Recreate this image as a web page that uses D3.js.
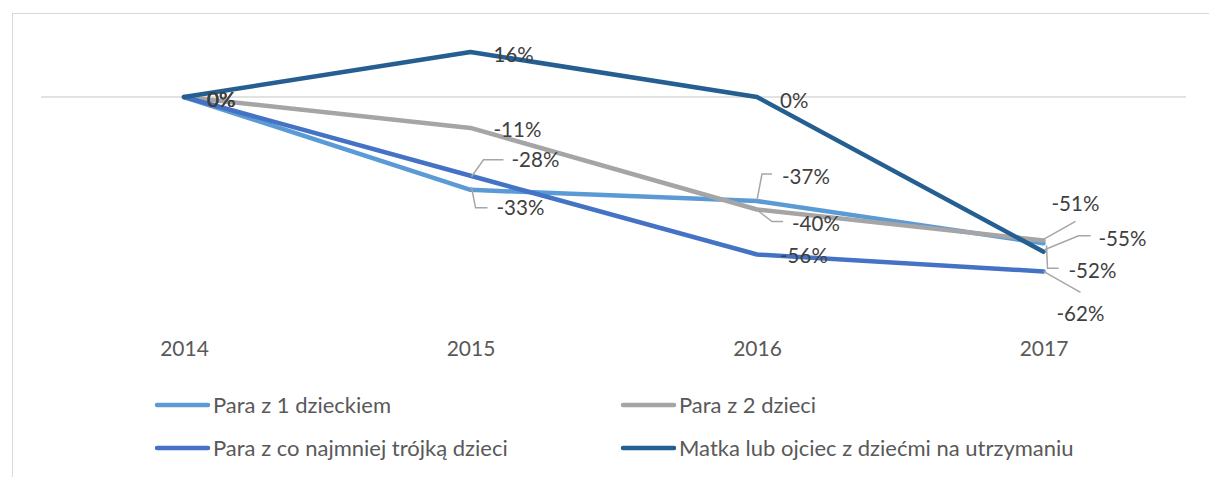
<!DOCTYPE html>
<html>
<head>
<meta charset="utf-8">
<script src="https://cdn.jsdelivr.net/npm/d3@7"></script>
<style>
  html, body { margin: 0; padding: 0; background: #fff; }
  svg { display: block; }
  text { font-family: Lato, "Open Sans", sans-serif; }
</style>
</head>
<body>
<div id="chart"></div>
<script>
// ---- Data ----
const years = ["2014", "2015", "2016", "2017"];
const seriesNames = [
  "Para z 1 dzieckiem",
  "Para z 2 dzieci",
  "Para z co najmniej trójką dzieci",
  "Matka lub ojciec z dziećmi na utrzymaniu"
];
const para1 = [0, -33, -37, -52];
const para2 = [0, -11, -40, -51];
const para3plus = [0, -28, -56, -62];
const samotni = [0, 16, 0, -55];
const seriesValues = [para1, para2, para3plus, samotni];
const labelTexts = [
  ["0%", "-33%", "-37%", "-52%"],
  ["0%", "-11%", "-40%", "-51%"],
  ["0%", "-28%", "-56%", "-62%"],
  ["0%", "16%", "0%", "-55%"]
];

// ---- Styling / layout (kept separate from data) ----
const colors = ["#5B9BD5", "#A5A5A5", "#4472C4", "#255E91"];
// label offsets relative to the data point: text start (dx, dy = vertical centre), optional leader polyline
const labelLayout = [
  [ {dx:23, dy:3}, {dx:26, dy:18, leader:[[1,-3],[5,18],[17,18]]}, {dx:25, dy:-24, leader:[[0,-1],[5,-27],[15,-27]]}, {dx:25, dy:28, leader:[[3,2],[4,25],[15,25]]} ],
  [ {dx:23, dy:3}, {dx:23, dy:2}, {dx:35, dy:14.5, leader:[[-2,-1],[15,12],[26,12]]}, {dx:8, dy:-37, leader:[[0,-1],[32,-19]]} ],
  [ {dx:23, dy:3}, {dx:41, dy:-16, leader:[[1,1],[13,-16],[33,-16]]}, {dx:23, dy:1}, {dx:13, dy:42, leader:[[0,0],[37,21]]} ],
  [ {dx:23, dy:3}, {dx:23, dy:3}, {dx:23, dy:4}, {dx:55, dy:-13, leader:[[1,-2],[35,-16],[47,-16]]} ]
];

const W = 1209, H = 477;
const svg = d3.select("#chart").append("svg").attr("width", W).attr("height", H);

// chart border
svg.append("rect")
  .attr("x", 12.5).attr("y", 13.5)
  .attr("width", W + 10).attr("height", H + 10)
  .attr("fill", "none").attr("stroke", "#D9D9D9").attr("stroke-width", 1);

const x = d3.scalePoint().domain(years).range([184, 1043.5]);
const y = d3.scaleLinear().domain([-70, 20]).range([293.9, 40.75]);

// zero gridline
svg.append("line")
  .attr("x1", 41).attr("x2", 1186)
  .attr("y1", y(0)).attr("y2", y(0))
  .attr("stroke", "#D9D9D9").attr("stroke-width", 1.3);

// x-axis labels
const xAxis = d3.axisBottom(x).tickSize(0).tickPadding(0);
const gx = svg.append("g").attr("transform", "translate(0,340)").call(xAxis);
gx.select(".domain").remove();
gx.selectAll("text")
  .attr("font-family", "Lato, sans-serif")
  .attr("font-size", 21)
  .attr("fill", "#595959")
  .attr("dy", "0.78em");

// lines
const line = d3.line().x((d, i) => x(years[i])).y(d => y(d));
seriesValues.forEach((vals, s) => {
  svg.append("path")
    .datum(vals)
    .attr("d", line)
    .attr("fill", "none")
    .attr("stroke", colors[s])
    .attr("stroke-width", 4.5)
    .attr("stroke-linejoin", "round")
    .attr("stroke-linecap", "round");
});

// leader lines and data labels
seriesValues.forEach((vals, s) => {
  vals.forEach((v, i) => {
    const px = x(years[i]), py = y(v);
    const L = labelLayout[s][i];
    if (L.leader) {
      svg.append("polyline")
        .attr("points", L.leader.map(p => [px + p[0], py + p[1]].join(",")).join(" "))
        .attr("fill", "none")
        .attr("stroke", "#A6A6A6")
        .attr("stroke-width", 1.5);
    }
    svg.append("text")
      .attr("x", px + L.dx)
      .attr("y", py + L.dy)
      .attr("dy", "0.35em")
      .attr("font-size", 20.5)
      .attr("fill", "#404040")
      .text(labelTexts[s][i]);
  });
});

// legend
const legendPos = [[155, 405], [621, 405], [155, 448], [621, 448]];
seriesNames.forEach((name, s) => {
  const [lx, ly] = legendPos[s];
  svg.append("line")
    .attr("x1", lx + 2).attr("x2", lx + 53)
    .attr("y1", ly).attr("y2", ly)
    .attr("stroke", colors[s]).attr("stroke-width", 4.5)
    .attr("stroke-linecap", "round");
  svg.append("text")
    .attr("x", lx + 58).attr("y", ly)
    .attr("dy", "0.35em")
    .attr("font-size", 22)
    .attr("fill", "#595959")
    .text(name);
});
</script>
</body>
</html>
